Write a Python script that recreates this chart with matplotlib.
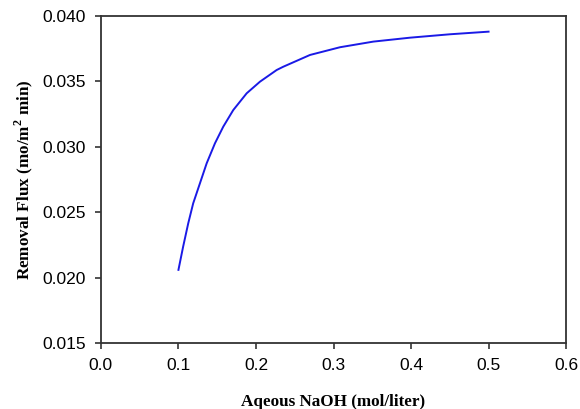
import matplotlib
matplotlib.use("Agg")
import matplotlib.pyplot as plt

# Values
naoh = [0.100, 0.106, 0.1126, 0.119, 0.1277, 0.1364, 0.1471, 0.1578, 0.1707,
        0.188, 0.2052, 0.2267, 0.2352, 0.2697, 0.3084, 0.3514, 0.3987, 0.4503, 0.500]
flux = [0.0206, 0.02236, 0.02415, 0.02568, 0.02721, 0.02874, 0.03027, 0.03154, 0.03281,
        0.03409, 0.03498, 0.03587, 0.03612, 0.03702, 0.03761, 0.03804, 0.03834, 0.03860, 0.03880]

x_ticks = [0.0, 0.1, 0.2, 0.3, 0.4, 0.5, 0.6]
y_ticks = [0.015, 0.020, 0.025, 0.030, 0.035, 0.040]

plt.rcParams["mathtext.fontset"] = "custom"
plt.rcParams["mathtext.rm"] = "Liberation Serif:bold"
plt.rcParams["mathtext.bf"] = "Liberation Serif:bold"

fig = plt.figure(figsize=(5.8, 4.09), dpi=100)
ax = fig.add_axes([0.174, 0.161, 0.802, 0.800])

ax.plot(naoh, flux, color="#1a1ae6", linewidth=1.4, solid_joinstyle="round")

ax.set_xlim(0.0, 0.6)
ax.set_ylim(0.015, 0.040)
ax.set_xticks(x_ticks)
ax.set_yticks(y_ticks)
ax.set_xticklabels([f"{v:.1f}" for v in x_ticks], fontfamily="Liberation Sans", fontsize=12.5)
ax.set_yticklabels([f"{v:.3f}" for v in y_ticks], fontfamily="Liberation Sans", fontsize=12.5)
ax.tick_params(direction="out", length=4, width=1.2, color="#333333", pad=7)

for side in ax.spines.values():
    side.set_linewidth(1.3)
    side.set_color("#333333")

ax.set_xlabel("Aqeous NaOH (mol/liter)", fontfamily="Liberation Serif",
              fontweight="bold", fontsize=12.3, labelpad=15)
ax.set_ylabel(r"Removal Flux (mo/m$^{2}$ min)", fontfamily="Liberation Serif",
              fontweight="bold", fontsize=12.3, labelpad=5)

fig.savefig("out.png", dpi=100)
